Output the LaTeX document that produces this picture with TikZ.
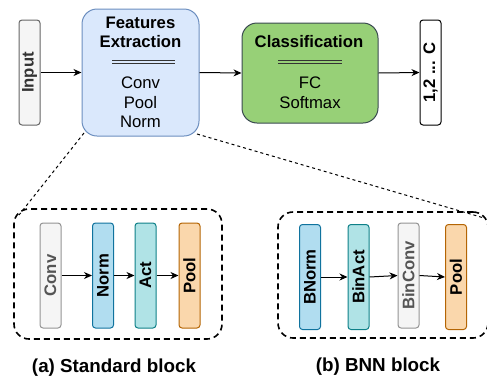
\documentclass[tikz,border=0pt]{standalone}
\usepackage{fontspec}
\setmainfont{Liberation Sans}
\usetikzlibrary{arrows.meta}
\definecolor{grayfill}{HTML}{F5F5F5}
\definecolor{graydraw}{HTML}{666666}
\definecolor{graytext}{HTML}{333333}
\definecolor{convtext}{HTML}{555555}
\definecolor{featfill}{HTML}{DAE8FC}
\definecolor{featdraw}{HTML}{6C8EBF}
\definecolor{clsfill}{HTML}{97D077}
\definecolor{clsdraw}{HTML}{3A4A50}
\definecolor{normfill}{HTML}{B1DDF0}
\definecolor{normdraw}{HTML}{10739E}
\definecolor{actfill}{HTML}{B0E3E6}
\definecolor{actdraw}{HTML}{0E8088}
\definecolor{poolfill}{HTML}{FAD7AC}
\definecolor{pooldraw}{HTML}{B46504}
\tikzset{
  txt/.style={font=\fontsize{16.7}{19.5}\selectfont, inner sep=0pt, align=center},
  boldtxt/.style={txt, font=\bfseries\fontsize{16.7}{19.5}\selectfont},
  captxt/.style={txt, font=\bfseries\fontsize{18.8}{22}\selectfont},
  vbox/.style={draw, line width=1pt, rounded corners=3pt, minimum width=105pt, minimum height=21pt,
    inner sep=0pt, rotate=90, font=\bfseries\fontsize{16.7}{19}\selectfont},
  bigbox/.style={draw, line width=1pt, rounded corners=15pt, inner sep=0pt},
  arr/.style={-{Stealth[length=8pt,width=7pt,inset=2.5pt]}, line width=1pt},
  blockbox/.style={draw, line width=1.6pt, dash pattern=on 6pt off 4pt, rounded corners=15pt, inner sep=0pt},
  zoomline/.style={line width=1pt, dash pattern=on 3pt off 3pt},
  dbl/.style={line width=1.1pt, draw=graytext},
}
\begin{document}
\begin{tikzpicture}[x=1pt,y=-1pt]
\useasboundingbox (0,0) rectangle (487,381);
\begin{scope}
\clip (0,0) rectangle (487,381);
% top row
\node[vbox, fill=grayfill, draw=graydraw, text=graytext] (input) at (29.5,72.5) {Input};
\node[bigbox, fill=featfill, draw=featdraw, minimum width=117pt, minimum height=127pt] (feat) at (140.5,72.5) {};
\node[boldtxt] (feattitle) at (140.5,32.5) {Features\\Extraction};
\draw[dbl] (112,60.3) -- (175,60.3);
\draw[dbl] (112,63.5) -- (175,63.5);
\node[txt] (featlist) at (140.5,102.5) {Conv\\Pool\\Norm};
\node[bigbox, fill=clsfill, draw=clsdraw, minimum width=136pt, minimum height=100pt] (cls) at (310,73) {};
\node[boldtxt] (clstitle) at (309,42) {Classification};
\draw[dbl] (278,60.3) -- (342,60.3);
\draw[dbl] (278,63.5) -- (342,63.5);
\node[txt] (clslist) at (310,92.5) {FC\\Softmax};
\node[vbox, fill=white, draw=black] (out) at (430.5,72.5) {1,2 ... C};
\draw[arr] (input.south) -- (feat.west);
\draw[arr] (feat.east) -- (cls.west);
\draw[arr] (cls.east) -- (out.north);
% left block
\node[blockbox, minimum width=208pt, minimum height=130pt] (blocka) at (118,274) {};
\node[vbox, fill=grayfill, draw=graydraw!70, text=convtext] (aconv) at (50.5,275.5) {Conv};
\node[vbox, fill=normfill, draw=normdraw] (anorm) at (103,275.5) {Norm};
\node[vbox, fill=actfill, draw=actdraw] (aact) at (145.5,275.5) {Act};
\node[vbox, fill=poolfill, draw=pooldraw] (apool) at (189.5,275.5) {Pool};
\draw[arr] (aconv.south) -- (anorm.north);
\draw[arr] (anorm.south) -- (aact.north);
\draw[arr] (aact.south) -- (apool.north);
\node[captxt] (capa) at (114,368) {(a) Standard block};
% right block
\node[blockbox, minimum width=210pt, minimum height=126pt] (blockb) at (383,275) {};
\node[vbox, fill=normfill, draw=normdraw] (bnorm) at (310,277) {BNorm};
\node[vbox, fill=actfill, draw=actdraw] (bact) at (358.5,277) {BinAct};
\node[vbox, fill=grayfill, draw=graydraw!70, text=convtext] (bconv) at (408.5,275.5) {BinConv};
\node[vbox, fill=poolfill, draw=pooldraw] (bpool) at (456,277) {Pool};
\draw[arr] (bnorm.south) -- (bact.north);
\draw[arr] (bact.south) -- (bconv.north);
\draw[arr] (bconv.south) -- (bpool.north);
\node[captxt] (capb) at (378,367) {(b) BNN block};
% zoom lines
\coordinate (fl) at (84,133);
\coordinate (al) at (19,215);
\coordinate (fr) at (197,134);
\coordinate (br) at (484,218);
\draw[zoomline] (fl) -- (al);
\draw[zoomline] (fr) -- (br);
\end{scope}
\end{tikzpicture}
\end{document}
